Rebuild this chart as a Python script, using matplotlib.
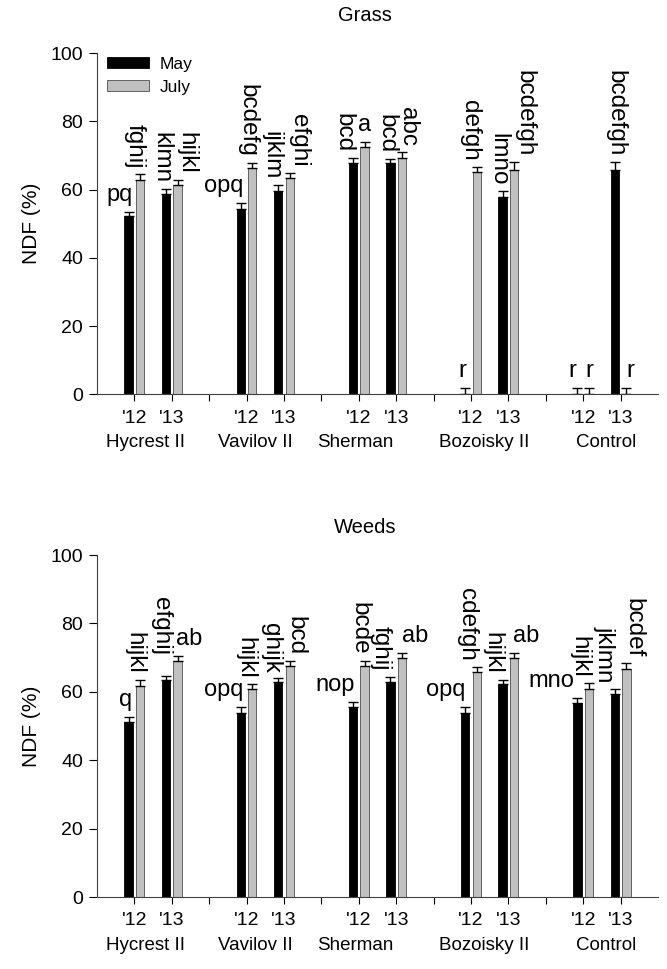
import numpy as np
import matplotlib.pyplot as plt

plt.rcParams['font.family'] = ['Liberation Sans', 'DejaVu Sans']

# Categories
cultivars = ['Hycrest II', 'Vavilov II', 'Sherman', 'Bozoisky II', 'Control']
years = ["'12", "'13"]

# NDF (%) values, ordered cultivar by cultivar, '12 then '13
grass_may = [52.3, 58.8, 54.3, 59.7, 67.8, 67.8, 0, 58.0, 0, 65.8]
grass_may_err = [1.2, 1.3, 1.7, 1.7, 1.4, 1.3, 1.8, 1.6, 1.8, 2.2]
grass_july = [62.9, 61.4, 66.3, 63.5, 72.6, 69.4, 65.3, 65.8, 0, 0]
grass_july_err = [1.7, 1.5, 1.6, 1.5, 1.5, 1.6, 1.5, 2.2, 1.8, 1.8]

weeds_may = [51.3, 63.5, 53.9, 62.8, 55.6, 63.0, 53.9, 62.3, 56.8, 59.5]
weeds_may_err = [1.4, 1.2, 1.6, 1.1, 1.5, 1.4, 1.6, 1.3, 1.5, 1.4]
weeds_july = [61.8, 69.1, 60.7, 67.5, 67.5, 70.0, 65.7, 69.8, 60.8, 66.7]
weeds_july_err = [1.7, 1.5, 1.5, 1.5, 1.5, 1.5, 1.6, 1.6, 1.7, 1.6]

# Mean separation letters
grass_may_letters = ['pq', 'klmn', 'opq', 'ijklm', 'bcd', 'bcd', 'r', 'lmno', 'r', 'bcdefgh']
grass_july_letters = ['fghij', 'hijkl', 'bcdefg', 'efghi', 'a', 'abc', 'defgh', 'bcdefgh', 'r', 'r']
weeds_may_letters = ['q', 'efghij', 'opq', 'ghijk', 'nop', 'fghij', 'opq', 'hijkl', 'mno', 'jklmn']
weeds_july_letters = ['hijkl', 'ab', 'hijkl', 'bcd', 'bcde', 'ab', 'cdefgh', 'ab', 'hijkl', 'bcdef']

# letters drawn upright (the rest read top to bottom)
upright = {'pq', 'opq', 'nop', 'mno', 'a', 'ab', 'r', 'q'}

# hand nudges for the letters (pixels), as in the original figure
grass_may_dx = [-9, -5, -17, -7, -10, -4, -3, -4, -5, 1]
grass_july_dx = [-6, 9, -5, 9, 0, 6, -7, 10, 0, 4]
weeds_may_dx = [-3, -5, -17, -7, -18, -10, -20, -10, -26, -10]
weeds_july_dx = [-6, 12, -7, 6, -5, 13, -10, 12, -10, 7]
weeds_may_dy = [0, 15, 0, 0, 0, 0, 0, 0, 0, 0]
name_dx = [-8, -10, -22, -6, 4]

PX = 72 / 100.0  # pixels -> points
xpos = np.array([3 * (k // 2) + k % 2 for k in range(10)])
off = 0.155
w = 0.22


def panel(ax, may, may_err, july, july_err, may_lab, july_lab,
          may_dx, july_dx, may_dy, title, title_pad):
    ax.bar(xpos - off, may, width=w, color='black', edgecolor='black',
           linewidth=0.6, label='May')
    ax.bar(xpos + off, july, width=w, color='#c0c0c0', edgecolor='#4d4d4d',
           linewidth=0.6, label='July')
    for xs, v, e in ((xpos - off, may, may_err), (xpos + off, july, july_err)):
        ax.errorbar(xs, v, yerr=[np.zeros(len(v)), e], fmt='none',
                    ecolor='black', elinewidth=1, capsize=3.3, capthick=1)

    for xs, v, e, labs, dxs, dys in ((xpos - off, may, may_err, may_lab, may_dx, may_dy),
                                     (xpos + off, july, july_err, july_lab, july_dx,
                                      [0] * 10)):
        for xi, vi, ei, t, dx, dy in zip(xs, v, e, labs, dxs, dys):
            if t in upright:
                kw = dict(rotation=0, fontsize=17)
            else:
                kw = dict(rotation=-90, fontsize=17.5)
            ax.annotate(t, xy=(xi, vi + ei), xytext=(dx * PX, (6 + dy) * PX),
                        textcoords='offset points', ha='center', va='bottom', **kw)

    ax.set_xlim(-1, 14)
    ax.set_ylim(0, 100)
    ax.set_xticks(xpos)
    ax.set_xticklabels(years * len(cultivars), fontsize=14)
    ax.set_xticks([2, 5, 8, 11], minor=True)
    ax.set_yticks(np.arange(0, 101, 20))
    ax.tick_params(axis='y', direction='out', length=6, width=0.8, labelsize=14, pad=4)
    ax.tick_params(axis='x', which='both', direction='out', length=5, width=0.8, pad=6)
    for s in ('top', 'right'):
        ax.spines[s].set_visible(False)
    for s in ('left', 'bottom'):
        ax.spines[s].set_color('#404040')
        ax.spines[s].set_linewidth(0.8)
    ax.set_ylabel('NDF (%)', fontsize=15, labelpad=7)
    ax.set_title(title, fontsize=14.5, pad=title_pad, x=0.478)

    for i, name in enumerate(cultivars):
        ax.annotate(name, xy=(3 * i + 0.5, 0), xycoords=('data', 'axes fraction'),
                    xytext=(name_dx[i] * PX, -48 * PX), textcoords='offset points',
                    ha='center', va='center', fontsize=13.5)


fig = plt.figure(figsize=(6.67, 9.69), dpi=100)
ax1 = fig.add_axes([0.1454, 0.5931, 0.8411, 0.3519])
ax2 = fig.add_axes([0.1454, 0.0743, 0.8411, 0.3529])

panel(ax1, grass_may, grass_may_err, grass_july, grass_july_err,
      grass_may_letters, grass_july_letters, grass_may_dx, grass_july_dx,
      [0] * 10, 'Grass', 23)
panel(ax2, weeds_may, weeds_may_err, weeds_july, weeds_july_err,
      weeds_may_letters, weeds_july_letters, weeds_may_dx, weeds_july_dx,
      weeds_may_dy, 'Weeds', 16)

ax1.legend(loc='upper left', bbox_to_anchor=(0.012, 1.0), frameon=False,
           fontsize=12.5, handlelength=2.4, handleheight=0.65,
           handletextpad=0.6, labelspacing=0.45, borderaxespad=0, borderpad=0.2)

fig.savefig('out.png', dpi=100)
